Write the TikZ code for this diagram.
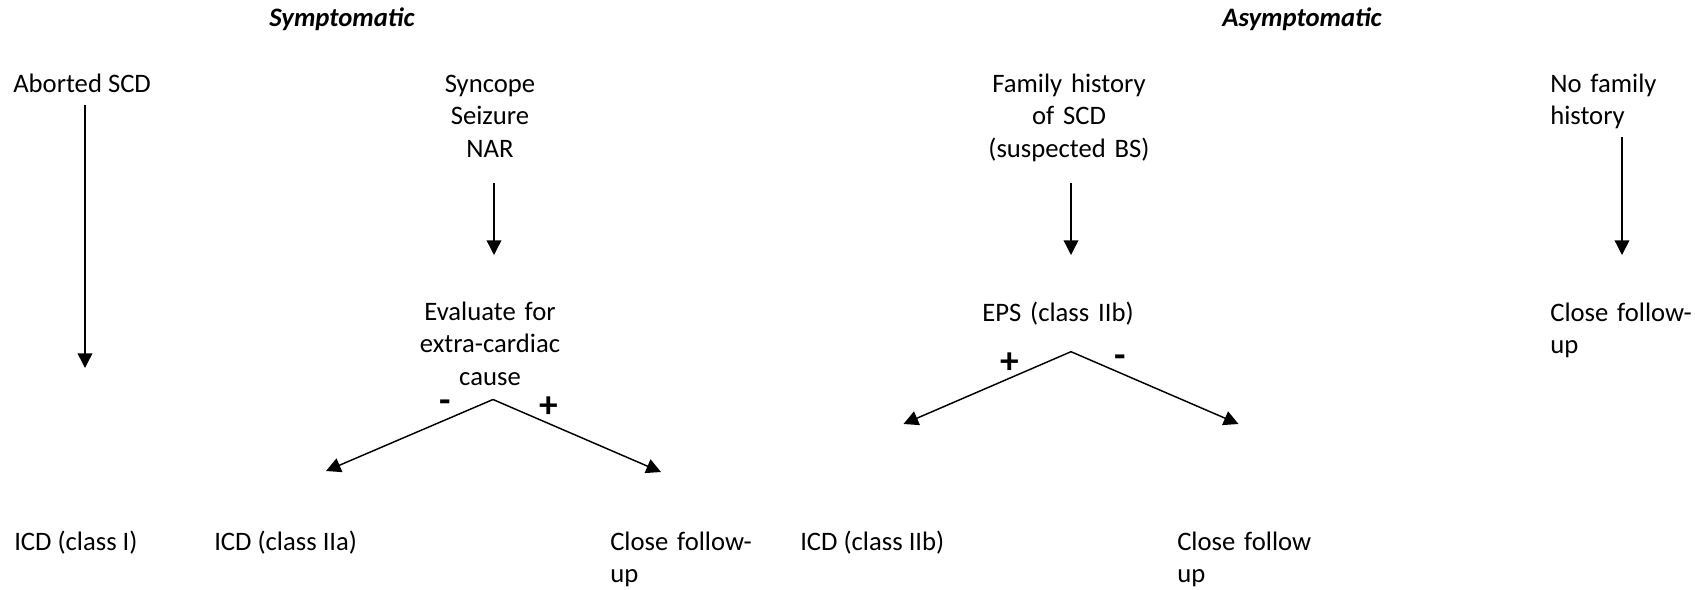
\documentclass[tikz,border=0pt]{standalone}
\usepackage{fontspec}
\setmainfont{Carlito}
\usetikzlibrary{arrows.meta}
\begin{document}
\begin{tikzpicture}[x=0.75pt,y=-0.75pt,
  txt/.style={inner sep=0pt, font=\fontsize{20}{24.6}\selectfont},
  one/.style={txt, anchor=base west},
  ctr/.style={txt, align=center, text width=220pt, anchor=base},
  lft/.style={txt, align=left, text width=120pt, anchor=base west},
  ttl/.style={txt, font=\fontsize{20}{24.6}\selectfont\bfseries\itshape, anchor=base},
  sgn/.style={txt, font=\fontsize{28}{34}\selectfont\bfseries, anchor=base},
  arr/.style={line width=1.1pt, -{Triangle[length=11pt,width=11pt]}}]
\useasboundingbox (0,0) rectangle (1695,589);

% headings
\node[ttl] (symp)  at (342,26.5) {Symptomatic};
\node[ttl] (asymp) at (1302,26.5) {Asymptomatic};

% symptomatic branch
\node[one] (abort) at (13,92) {Aborted SCD};
\node[ctr] (sync)  at (490,92) {Syncope\\Seizure\\NAR};
\node[ctr] (eval)  at (490,320) {Evaluate for\\extra-cardiac\\cause};
\node[one] (icdI)  at (14,550) {ICD (class I)};
\node[one] (icdIIa) at (214,550) {ICD (class IIa)};
\node[lft] (cfuA)  at (610,550) {Close follow-\\up};

% asymptomatic branch
\node[ctr] (fam)   at (1069,92) {Family history\\of SCD\\(suspected BS)};
\node[ctr] (eps)   at (1058,321) {EPS (class IIb)};
\node[one] (icdIIb) at (800,550) {ICD (class IIb)};
\node[lft] (cfuB)  at (1177,550) {Close follow\\up};
\node[lft] (nofam) at (1550,92) {No family\\history};
\node[lft] (cfuC)  at (1550,321) {Close follow-\\up};

% arrow end points
\coordinate (abortS) at (85,105);   \coordinate (abortE) at (85,368);
\coordinate (syncS)  at (494,183);  \coordinate (syncE)  at (494,255);
\coordinate (famS)   at (1071,183); \coordinate (famE)   at (1071,255);
\coordinate (nofamS) at (1622,137); \coordinate (nofamE) at (1622,255);
\coordinate (evalF)  at (493,399.5);
\coordinate (evalL)  at (326,471);  \coordinate (evalR)  at (661,472);
\coordinate (epsF)   at (1071,351.7);
\coordinate (epsL)   at (903.5,424); \coordinate (epsR)  at (1238.5,424);

\draw[arr] (abortS) -- (abortE);
\draw[arr] (syncS) -- (syncE);
\draw[arr] (famS) -- (famE);
\draw[arr] (nofamS) -- (nofamE);
\draw[arr] (evalF) -- (evalL);
\draw[arr] (evalF) -- (evalR);
\draw[arr] (epsF) -- (epsL);
\draw[arr] (epsF) -- (epsR);

% test outcome signs
\node[sgn] (evalMinus) at (445,412) {-};
\node[sgn] (evalPlus)  at (548.3,417) {+};
\node[sgn] (epsPlus)   at (1009.3,373) {+};
\node[sgn] (epsMinus)  at (1120.7,367) {-};
\end{tikzpicture}
\end{document}
